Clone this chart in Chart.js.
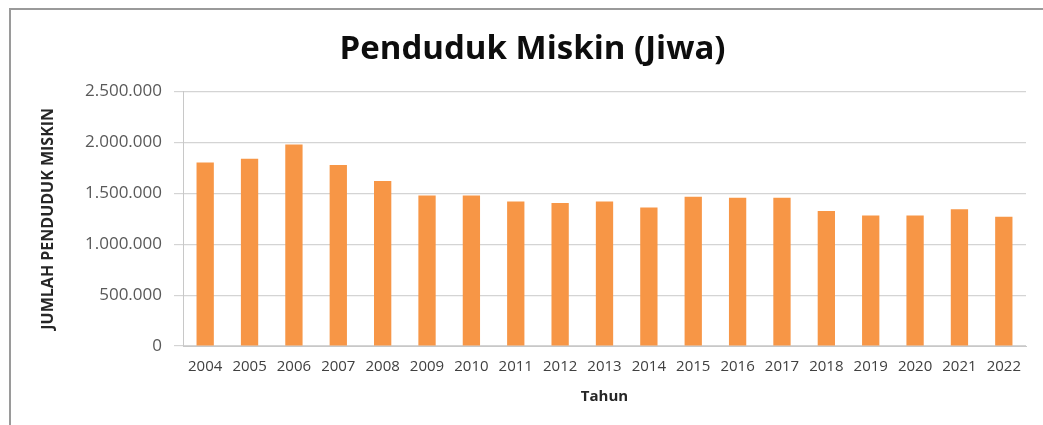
<!DOCTYPE html>
<html>
<head>
<meta charset="utf-8">
<script src="https://cdn.jsdelivr.net/npm/chart.js@4/dist/chart.umd.min.js"></script>
<style>
  html, body { margin: 0; padding: 0; background: #fff; }
  #wrap { position: relative; width: 1043px; height: 425px; }
  #frame { position: absolute; left: 9px; top: 8px; right: -5px; bottom: -5px; border-left: 2px solid #9a9a9a; border-top: 2px solid #9a9a9a; }
  canvas { position: absolute; left: 0; top: 0; }
</style>
</head>
<body>
<div id="wrap">
  <div id="frame"></div>
  <canvas id="povertyChart" width="1043" height="425"></canvas>
</div>
<script>
const years = ['2004', '2005', '2006', '2007', '2008', '2009', '2010', '2011', '2012', '2013',
  '2014', '2015', '2016', '2017', '2018', '2019', '2020', '2021', '2022'];
const poorPeople = [1804000, 1840000, 1981000, 1778000, 1621000, 1480000, 1480000, 1420000, 1405000, 1420000,
  1361000, 1467000, 1457000, 1457000, 1326000, 1283000, 1283000, 1345000, 1270000];
const yMax = 2500000;
const yStep = 500000;

const dotted = (v) => String(v).replace(/\B(?=(\d{3})+(?!\d))/g, '.');

new Chart(document.getElementById('povertyChart'), {
  type: 'bar',
  data: {
    labels: years,
    datasets: [{
      label: 'Penduduk Miskin',
      data: poorPeople,
      backgroundColor: '#f79646',
      borderWidth: 0,
      categoryPercentage: 1,
      barPercentage: 0.39,
    }],
  },
  options: {
    responsive: false,
    animation: false,
    layout: { padding: { left: 39, right: 17, top: 9, bottom: 19 } },
    plugins: {
      legend: { display: false },
      tooltip: { enabled: false },
      title: {
        display: true,
        text: 'Penduduk Miskin (Jiwa)',
        color: '#0d0d0d',
        font: { family: 'Open Sans', size: 33, weight: 'bold' },
        padding: { top: 21, bottom: 22 },
      },
    },
    scales: {
      x: {
        grid: { display: false },
        border: { display: true, color: '#c8c8c8' },
        ticks: { color: '#404040', font: { family: 'Open Sans', size: 15 }, padding: 4, maxRotation: 0, autoSkip: false },
        title: {
          display: true,
          text: 'Tahun',
          color: '#262626',
          font: { family: 'Open Sans', size: 15, weight: 'bold' },
          padding: { top: 4, bottom: 0 },
        },
        afterFit: (s) => { s.height = 60; },
      },
      y: {
        min: 0,
        max: yMax,
        grid: { color: '#d4d4d4', lineWidth: 1.2, tickLength: 9 },
        border: { display: true, color: '#c8c8c8' },
        ticks: { stepSize: yStep, color: '#595959', font: { family: 'Open Sans', size: 17 }, padding: 12, callback: dotted },
        title: {
          display: true,
          text: 'JUMLAH PENDUDUK MISKIN',
          color: '#262626',
          font: { family: 'Open Sans', size: 16, weight: 'bold' },
          padding: 0,
        },
        afterFit: (s) => { s.width = 144; },
      },
    },
  },
});
</script>
</body>
</html>
